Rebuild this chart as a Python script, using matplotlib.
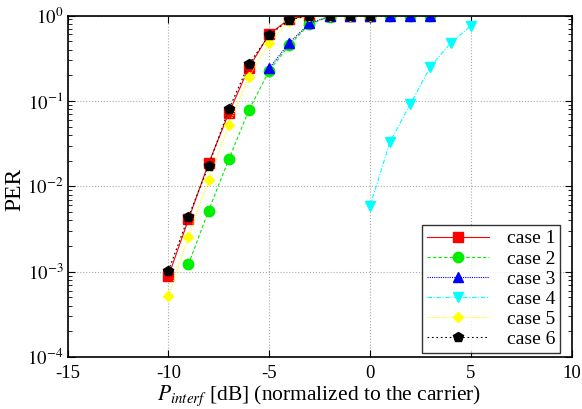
import matplotlib
matplotlib.use("Agg")
import matplotlib.pyplot as plt
from matplotlib.ticker import LogLocator, NullFormatter, FuncFormatter
import numpy as np

plt.rcParams['font.family'] = ['Liberation Serif', 'DejaVu Serif']
plt.rcParams['mathtext.fontset'] = 'stix'
plt.rcParams['axes.unicode_minus'] = False

x1 = [-10, -9, -8, -7, -6, -5, -4, -3, -2, -1, 0]
y1 = [8.8e-4, 4.1e-3, 0.0186, 0.072, 0.246, 0.605, 0.91, 1.0, 1.0, 1.0, 1.0]

x2 = [-9, -8, -7, -6, -5, -4, -3, -2, -1, 0, 1, 2, 3]
y2 = [1.22e-3, 5.2e-3, 0.0207, 0.0785, 0.225, 0.45, 0.79, 0.97, 1.0, 1.0, 1.0, 1.0, 1.0]

x3 = [-5, -4, -3, -2, -1, 0, 1, 2, 3]
y3 = [0.24, 0.48, 0.81, 0.98, 1.0, 1.0, 1.0, 1.0, 1.0]

x4 = [0, 1, 2, 3, 4, 5]
y4 = [5.8e-3, 0.0333, 0.091, 0.252, 0.475, 0.76]

x5 = [-10, -9, -8, -7, -6, -5, -4, -3, -2, -1, 0]
y5 = [5.2e-4, 2.57e-3, 0.0119, 0.052, 0.19, 0.48, 0.87, 0.98, 1.0, 1.0, 1.0]

x6 = [-10, -9, -8, -7, -6, -5, -4, -3, -2, -1, 0]
y6 = [1.02e-3, 4.4e-3, 0.0175, 0.08, 0.27, 0.59, 0.89, 1.0, 1.0, 1.0, 1.0]

labels = ['case 1', 'case 2', 'case 3', 'case 4', 'case 5', 'case 6']

fig = plt.figure(figsize=(5.82, 4.09), dpi=100)
ax = fig.add_axes([0.116, 0.127, 0.866, 0.835])

ax.plot(x1, y1, color='#ff0000', ls='-', lw=0.8, marker='s', ms=7, label=labels[0])
ax.plot(x2, y2, color='#00ee00', ls=(0, (3, 2)), lw=0.8, marker='o', ms=7.5, label=labels[1])
ax.plot(x3, y3, color='#0000ff', ls=(0, (1, 1)), lw=0.8, marker='^', ms=7, label=labels[2])
ax.plot(x4, y4, color='#00ffff', ls=(0, (4, 1.5, 1, 1.5)), lw=0.8, marker='v', ms=7, label=labels[3])
ax.plot(x5, y5, color='#ffff00', ls=(0, (1, 1)), lw=0.8, marker='D', ms=5.5, label=labels[4])
ax.plot(x6, y6, color='#000000', ls=(0, (1.5, 2.5)), lw=0.8, marker='p', ms=7.5, label=labels[5])

ax.set_yscale('log')
ax.set_xlim(-15, 10)
ax.set_ylim(1e-4, 1)
ax.set_xticks([-15, -10, -5, 0, 5, 10])
ax.yaxis.set_major_locator(LogLocator(base=10, numticks=10))
ax.yaxis.set_major_formatter(FuncFormatter(lambda v, p: r'$10^{%d}$' % int(round(np.log10(v)))))
ax.yaxis.set_minor_locator(LogLocator(base=10, subs=range(2, 10), numticks=50))
ax.yaxis.set_minor_formatter(NullFormatter())
ax.tick_params(which='both', direction='in', top=True, right=True, labelsize=13.5)
ax.tick_params(which='major', length=5)
ax.tick_params(which='minor', length=3)
ax.tick_params(axis='x', pad=6)
ax.tick_params(axis='y', pad=3)
ax.grid(True, which='major', ls=':', color='#aaaaaa', lw=0.8)
for s in ax.spines.values():
    s.set_linewidth(1.2)

ax.set_xlabel(r'$P_{interf}$ [dB] (normalized to the carrier)', fontsize=15.5, labelpad=0.5)
ax.set_ylabel('PER', fontsize=17)
ax.yaxis.set_label_coords(-0.084, 0.49)

leg = ax.legend(loc='lower right', bbox_to_anchor=(0.977, 0.012), fontsize=14,
                handlelength=3.2, frameon=True, fancybox=False, edgecolor='black',
                borderaxespad=0, labelspacing=0.13, borderpad=0.25, handletextpad=0.9)
leg.get_frame().set_linewidth(1.0)

fig.savefig('out.png', dpi=100)
